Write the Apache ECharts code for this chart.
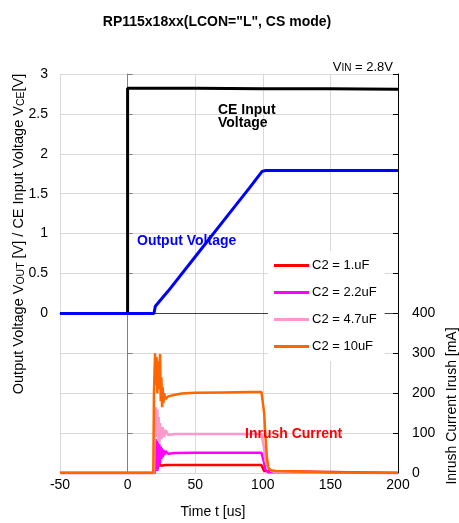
<!DOCTYPE html>
<html>
<head>
<meta charset="utf-8">
<script src="https://cdn.jsdelivr.net/npm/echarts@6/dist/echarts.min.js"></script>
<style>
html,body{margin:0;padding:0;background:#fff;}
#chart{width:459px;height:523px;}
</style>
</head>
<body>
<div id="chart"></div>
<script>
// ---------- data ----------
const xTicks = [-50, 0, 50, 100, 150, 200];

const ceTime = [-50, 0, 0, 50, 100, 150, 200];
const ceVolt = [0, 0, 2.82, 2.82, 2.815, 2.815, 2.81];

const outTime = [-50, 19.5, 20.5, 30, 50, 70, 90, 99.5, 102, 150, 200];
const outVolt = [0, 0, 0.09, 0.28, 0.71, 1.14, 1.57, 1.78, 1.79, 1.79, 1.79];

const c1Time = [-50, 20, 21, 22, 23, 25, 28, 99, 100, 101, 102, 200];
const c1Cur  = [0, 0, 30, 10, 25, 18, 20, 20, 18, 5, 0, 0];

const c22Time = [-50, 20, 20.5, 21, 21.5, 22, 22.5, 23, 23.5, 24, 24.5, 25, 25.5, 26, 26.5, 27, 28, 30, 35, 50, 99, 100, 101, 102, 104, 200];
const c22Cur  = [0, 0, 70, 10, 85, 5, 80, 15, 72, 25, 66, 35, 62, 40, 58, 45, 55, 48, 50, 51, 51, 48, 25, 8, 2, 0];

const c47Time = [-50, 19.5, 20, 21, 21.5, 22, 22.5, 23, 23.5, 24, 25, 26, 27, 28, 30, 35, 50, 99, 100, 101, 102, 104, 106, 108, 110, 150, 200];
const c47Cur  = [0, 0, 120, 165, 90, 160, 80, 140, 75, 125, 85, 115, 90, 108, 95, 98, 98, 98, 95, 60, 30, 12, 6, 3, 2, 0, 0];

const c10Time = [-50, 19, 19.5, 20.3, 21, 21.5, 22, 22.5, 23, 24, 24.5, 25, 25.5, 26, 26.5, 27, 28, 30, 35, 40, 50, 70, 90, 99, 100, 101, 102, 103, 104, 105, 107, 110, 130, 150, 200];
const c10Cur  = [0, 0, 200, 300, 220, 290, 200, 280, 210, 298, 180, 240, 165, 215, 175, 200, 185, 192, 196, 199, 201, 202, 203, 203, 200, 150, 90, 40, 15, 9, 6, 5, 3, 1, 0];

const legendNames = ['C2 = 1.uF', 'C2 = 2.2uF', 'C2 = 4.7uF', 'C2 = 10uF'];

// ---------- build ----------
const zip = (a, b) => a.map((t, i) => [t, b[i]]);
const FONT = '"Liberation Sans", Arial, sans-serif';

const chart = echarts.init(document.getElementById('chart'), null, {renderer: 'canvas'});

function lineSeries(name, t, v, color, width, yIdx, z) {
  return {
    name: name, type: 'line', data: zip(t, v), yAxisIndex: yIdx,
    showSymbol: false, symbol: 'none', animation: false, z: z,
    lineStyle: {color: color, width: width}, itemStyle: {color: color}
  };
}

const option = {
  animation: false,
  backgroundColor: '#fff',
  textStyle: {fontFamily: FONT},
  grid: {left: 60, top: 74, width: 338, height: 399, containLabel: false, outerBoundsMode: 'none'},
  xAxis: {
    type: 'value', min: -50, max: 200, interval: 50,
    axisLine: {show: true, lineStyle: {color: '#404040', width: 1}},
    axisTick: {show: false},
    splitLine: {show: true, lineStyle: {color: '#d9d9d9', width: 1}},
    axisLabel: {fontSize: 14, color: '#000', fontFamily: FONT, margin: 5,
      formatter: v => xTicks.indexOf(v) >= 0 ? String(v) : ''}
  },
  yAxis: [
    {
      type: 'value', min: -2, max: 3, interval: 0.5, position: 'left',
      axisLine: {show: true, lineStyle: {color: '#808080', width: 1}},
      axisTick: {show: true, inside: true, length: 5, lineStyle: {color: '#808080'}},
      splitLine: {show: true, lineStyle: {color: '#d9d9d9', width: 1}},
      axisLabel: {fontSize: 14, color: '#000', fontFamily: FONT, margin: 12,
        formatter: v => v >= 0 ? String(v) : ''}
    },
    {
      type: 'value', min: 0, max: 1000, interval: 100, position: 'right',
      axisLine: {show: true, lineStyle: {color: '#000', width: 1}},
      axisTick: {show: true, inside: true, length: 5, lineStyle: {color: '#000'}},
      splitLine: {show: false},
      axisLabel: {fontSize: 14, color: '#000', fontFamily: FONT, margin: 14,
        formatter: v => v <= 400 ? String(v) : ''}
    }
  ],
  legend: {
    data: legendNames,
    orient: 'vertical', left: 268, top: 251,
    itemWidth: 35, itemHeight: 3, itemGap: 14, icon: 'rect',
    backgroundColor: '#fff', padding: [8, 8, 8, 6],
    textStyle: {fontSize: 13, color: '#000', fontFamily: FONT, padding: [0, 0, 0, -2]},
    selectedMode: false
  },
  series: [
    lineSeries(legendNames[0], c1Time, c1Cur, '#ff0000', 2.5, 1, 2),
    lineSeries(legendNames[1], c22Time, c22Cur, '#ff00ff', 2.5, 1, 3),
    lineSeries(legendNames[2], c47Time, c47Cur, '#ff99cc', 2.5, 1, 4),
    lineSeries(legendNames[3], c10Time, c10Cur, '#ff6600', 2.5, 1, 5),
    lineSeries('CE Input Voltage', ceTime, ceVolt, '#000000', 3, 0, 6),
    lineSeries('Output Voltage', outTime, outVolt, '#0000ff', 3, 0, 7)
  ],
  graphic: [
    {type: 'text', x: 217, y: 22, z: 10,
      style: {text: 'RP115x18xx(LCON="L", CS mode)', align: 'center', verticalAlign: 'middle',
        font: 'bold 14px ' + FONT, fill: '#000'}},
    {type: 'text', x: 393, y: 67, z: 10,
      style: {text: 'V{s|IN} = 2.8V', align: 'right', verticalAlign: 'middle',
        font: '13px ' + FONT, fill: '#000',
        rich: {s: {fontSize: 10, fontFamily: FONT, fill: '#000', padding: [3, 0, 0, 0]}}}},
    {type: 'text', x: 19, y: 234, rotation: Math.PI / 2, z: 10,
      style: {text: 'Output Voltage V{s|OUT} [V] / CE Input Voltage V{s|CE}[V]',
        align: 'center', verticalAlign: 'middle',
        font: '14.5px ' + FONT, fill: '#000',
        rich: {s: {fontSize: 10.5, fontFamily: FONT, fill: '#000', padding: [4, 0, 0, 0]}}}},
    {type: 'text', x: 218, y: 104, z: 10,
      style: {text: 'CE Input\nVoltage', align: 'left', verticalAlign: 'top', lineHeight: 13,
        font: 'bold 14px ' + FONT, fill: '#000'}},
    {type: 'text', x: 137, y: 241, z: 10,
      style: {text: 'Output Voltage', align: 'left', verticalAlign: 'middle',
        font: 'bold 14px ' + FONT, fill: '#0000ff'}},
    {type: 'text', x: 245, y: 434, z: 10,
      style: {text: 'Inrush Current', align: 'left', verticalAlign: 'middle',
        font: 'bold 14px ' + FONT, fill: '#ff0000'}},
    {type: 'text', x: 213, y: 512, z: 10,
      style: {text: 'Time t [us]', align: 'center', verticalAlign: 'middle',
        font: '14px ' + FONT, fill: '#000'}},
    {type: 'text', x: 452, y: 406, rotation: Math.PI / 2, z: 10,
      style: {text: 'Inrush Current Irush [mA]', align: 'center', verticalAlign: 'middle',
        font: '14px ' + FONT, fill: '#000'}}
  ]
};
chart.setOption(option);
</script>
</body>
</html>
